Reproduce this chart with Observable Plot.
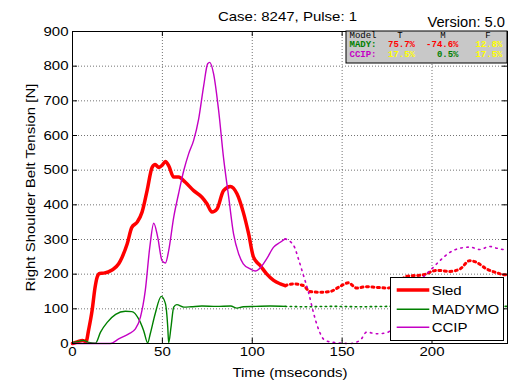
<!DOCTYPE html>
<html>
<head>
<meta charset="utf-8">
<script src="https://cdn.jsdelivr.net/npm/d3@7"></script>
<script src="https://cdn.jsdelivr.net/npm/@observablehq/plot@0.6"></script>
<style>
  html, body { margin: 0; padding: 0; background: white; }
  #chart { position: relative; width: 512px; height: 383px; }
</style>
</head>
<body>
<div id="chart"></div>
<script>
// ---- data ----
const titleText = "Case: 8247, Pulse: 1";
const versionText = "Version: 5.0";
const xLabel = "Time (mseconds)";
const yLabel = "Right Shoulder Belt Tension [N]";
const xTicks = [0, 50, 100, 150, 200];
const yTicks = [0, 100, 200, 300, 400, 500, 600, 700, 800, 900];
const seriesNames = ["Sled", "MADYMO", "CCIP"];
const seriesColors = ["#ff0000", "#008000", "#c400c4"];
const solidEnd = 118.3;

const sledTime = [0,3,5.5,7.5,9,10.9,12.5,13.7,15,17.4,22,25.7,27.6,30.4,33,36,38.7,41.5,44.3,46,48,50,51.7,53.5,56.3,59,62.8,67.4,72,74.8,77.6,80.4,84,87.8,91.5,95,98,100.7,104.4,108,111.9,115.6,118.3,123,128.5,132,137.8,143.3,148,153.5,158,163.7,169,175.7,181,186,195,202.6,210,215.6,221,224.8,230.4,236,240.6,242];
const sledForce = [0,5,9,5,40,95,160,191,202,203,212,230,249,287,335,350,379,441,508,516,508,515,525,513,480,480,465,441,422,403,379,388,441,453,432,379,316,249,225,201,182,172,167,172,167,150,148,150,162,175,160,164,162,160,175,194,198,211,208,215,239,234,215,204,198,198];

const madyTime = [0,3,6,9,12.8,15.6,19.3,24,29.4,33,36.8,39.6,41.8,43.3,46,49.4,51.7,53,53.5,54.8,56.3,58,61.9,66,72,80,88,91.5,95,102,110,118.3,130,145,160,175,190,205,220,235,242];
const madyForce = [2,6,9,3,1,33,61,84,93,92,71,37,2,29,86,136,115,47,2,47,105,112,105,106,108,107,108,102,106,107,108,107,106,107,106,107,108,107,106,107,107];

const ccipTime = [0,10,21,25.7,31.3,35,37.8,40.5,43,45.2,47.4,49.8,51.7,53.5,56.3,59,61.9,64.6,67.4,70.2,73,75.2,76.3,78.5,81.3,84,86.9,89.6,92.4,95,98.9,101.7,104.4,108,111.9,115.6,118.3,123,125.7,128.5,131.3,134,136.8,140.5,147,154.4,160,163.7,169,174.8,180,185,190,196,199.8,204.4,210,215.6,221,226.7,232,236,240,242];
const ccipForce = [0,0,0,13,28,42,76,153,278,347,307,239,232,268,364,432,499,547,586,648,744,807,811,778,672,537,422,316,259,230,215,209,218,244,278,292,302,283,244,196,148,90,42,9,2,0,9,33,28,31,60,110,160,196,215,239,263,275,278,271,280,275,271,272];

// stats table
const tableHeader = ["Model", "T", "M", "F"];
const tableRows = [
  {model: "MADY:", values: ["75.7%", "-74.6%", "12.8%"], colors: ["#ff0000", "#ff0000", "#ffff00"]},
  {model: "CCIP:", values: ["17.5%", "0.5%", "17.5%"], colors: ["#ffff00", "#008000", "#ffff00"]}
];

// ---- build ----
function pts(t, v) { return t.map((d, i) => ({t: d, v: v[i]})); }
const sled = pts(sledTime, sledForce);
const mady = pts(madyTime, madyForce);
const ccip = pts(ccipTime, ccipForce);
const solid = a => a.filter(d => d.t <= solidEnd);
const dotted = a => a.filter(d => d.t >= solidEnd);

const widths = [3.5, 1.4, 1.4];
const dash = ["2,3.5", "1.5,3.5", "1.5,4.5"];
const allSeries = [sled, mady, ccip];

const lineMarks = [];
allSeries.forEach((s, i) => {
  lineMarks.push(Plot.line(dotted(s), {x: "t", y: "v", stroke: seriesColors[i], strokeWidth: i === 0 ? 3 : 1.6, strokeDasharray: dash[i], curve: "monotone-x"}));
});
allSeries.forEach((s, i) => {
  lineMarks.push(Plot.line(solid(s), {x: "t", y: "v", stroke: seriesColors[i], strokeWidth: widths[i], curve: "monotone-x", strokeLinejoin: "round"}));
});

const W = 512, H = 383, mL = 72, mR = 5, mT = 31, mB = 40;
const pw = W - mL - mR, ph = H - mT - mB;
const gridStyle = {stroke: "#000", strokeOpacity: 0.55, strokeDasharray: "1,2"};

const chart = Plot.plot({
  width: W, height: H,
  marginLeft: mL, marginRight: mR, marginTop: mT, marginBottom: mB,
  style: {fontFamily: "'Liberation Sans', Arial, sans-serif", fontSize: "12.5px", background: "white", color: "black"},
  x: {domain: [0, 242]},
  y: {domain: [0, 900]},
  marks: [
    Plot.ruleX(xTicks.filter(d => d > 0), {x: d => d, ...gridStyle}),
    Plot.ruleY(yTicks.filter(d => d > 0 && d < 900), {y: d => d, ...gridStyle}),
    ...lineMarks,
    Plot.frame({stroke: "black"}),
    Plot.tickX(xTicks, {x: d => d, insetTop: ph - 5, stroke: "black"}),
    Plot.tickX(xTicks, {x: d => d, insetBottom: ph - 5, stroke: "black"}),
    Plot.tickY(yTicks, {y: d => d, insetRight: pw - 5, stroke: "black"}),
    Plot.tickY(yTicks, {y: d => d, insetLeft: pw - 5, stroke: "black"}),
    Plot.axisX(xTicks, {tickSize: 0, tickPadding: 4, label: null}),
    Plot.axisY(yTicks, {tickSize: 0, tickPadding: 4, label: null}),
    Plot.text([xLabel], {text: d => d, frameAnchor: "bottom", dy: 29, lineAnchor: "middle", textAnchor: "middle"}),
    Plot.text([yLabel], {text: d => d, frameAnchor: "left", dx: -41.5, rotate: -90, lineAnchor: "middle", textAnchor: "middle"})
  ]
});

// widen text to match the reference's broad glyphs
d3.select(chart).selectAll("text").each(function() {
  const t = this.getAttribute("transform") || "";
  this.setAttribute("transform", t + " scale(1.2,1)");
});

const svg = d3.select(chart);
const font = "'Liberation Sans', Arial, sans-serif";

// title + version
svg.append("text").text(titleText)
  .attr("transform", "translate(287.5,20.7) scale(1.2,1)")
  .attr("text-anchor", "middle").attr("font-family", font).attr("font-size", 12.5).attr("fill", "black");
svg.append("text").text(versionText)
  .attr("transform", "translate(505,27.3) scale(1.05,1)")
  .attr("text-anchor", "end").attr("font-family", font).attr("font-size", 14).attr("fill", "black");

// stats table
const tb = svg.append("g").attr("font-family", "'Liberation Mono', 'DejaVu Sans Mono', monospace").attr("font-size", 9).attr("font-weight", "bold");
tb.append("rect").attr("x", 346).attr("y", 31).attr("width", W - mR - 346).attr("height", 32)
  .attr("fill", "#c8c8c8").attr("stroke", "black").attr("stroke-width", 1);
const colX = [349.5, 415, 458.5, 502.5];
const headX = [349.5, 400, 443, 488];
tableHeader.forEach((h, i) => {
  tb.append("text").text(h).attr("x", headX[i]).attr("y", 37.5)
    .attr("text-anchor", i === 0 ? "start" : "middle").attr("fill", "black").attr("font-weight", "normal");
});
tableRows.forEach((r, j) => {
  const y = 46.5 + j * 10.8;
  tb.append("text").text(r.model).attr("x", colX[0]).attr("y", y).attr("text-anchor", "start").attr("fill", seriesColors[j + 1]);
  r.values.forEach((v, k) => {
    tb.append("text").text(v).attr("x", colX[k + 1]).attr("y", y).attr("text-anchor", "end").attr("fill", r.colors[k]);
  });
});

// legend
const lg = svg.append("g");
lg.append("rect").attr("x", 390.5).attr("y", 277.5).attr("width", 113).attr("height", 63)
  .attr("fill", "white").attr("stroke", "black").attr("stroke-width", 1);
const legendY = [290, 309.3, 327.3];
seriesNames.forEach((n, i) => {
  lg.append("line").attr("x1", 396.7).attr("x2", 429.3).attr("y1", legendY[i]).attr("y2", legendY[i])
    .attr("stroke", seriesColors[i]).attr("stroke-width", widths[i]);
  lg.append("text").text(n).attr("transform", `translate(431.7,${legendY[i] + 4.5}) scale(1.2,1)`)
    .attr("text-anchor", "start").attr("font-family", font).attr("font-size", 12.5).attr("fill", "black");
});

document.getElementById("chart").appendChild(chart);
</script>
</body>
</html>
